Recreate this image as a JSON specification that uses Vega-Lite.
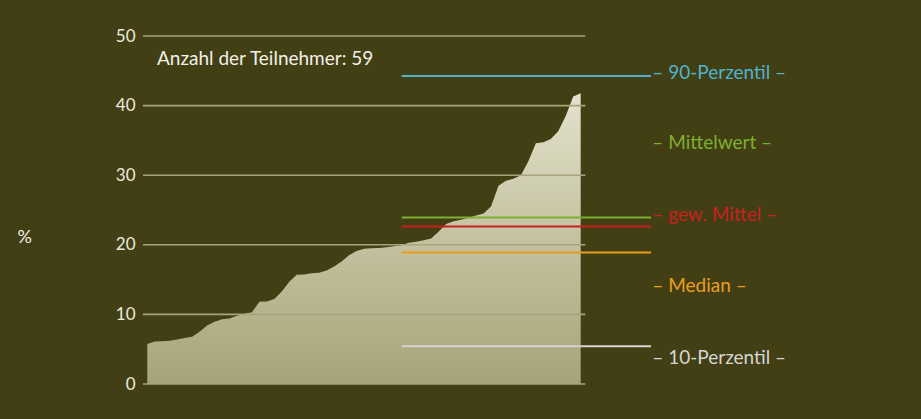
{
  "$schema": "https://vega.github.io/schema/vega-lite/v6.json",
  "autosize": {"type": "none"},
  "width": 778,
  "height": 348,
  "padding": {"left": 143, "top": 36, "right": 0, "bottom": 35},
  "background": "#433f15",
  "config": {"view": {"stroke": null}, "font": "Lato"},
  "datasets": {
    "teilnehmer": [
      {"i": 1, "v": 5.74}, {"i": 2, "v": 6.12}, {"i": 3, "v": 6.15}, {"i": 4, "v": 6.2}, {"i": 5, "v": 6.4},
      {"i": 6, "v": 6.6}, {"i": 7, "v": 6.8}, {"i": 8, "v": 7.5}, {"i": 9, "v": 8.4}, {"i": 10, "v": 8.95},
      {"i": 11, "v": 9.3}, {"i": 12, "v": 9.4}, {"i": 13, "v": 9.8}, {"i": 14, "v": 10.1}, {"i": 15, "v": 10.3},
      {"i": 16, "v": 11.8}, {"i": 17, "v": 11.87}, {"i": 18, "v": 12.2}, {"i": 19, "v": 13.3}, {"i": 20, "v": 14.7},
      {"i": 21, "v": 15.7}, {"i": 22, "v": 15.75}, {"i": 23, "v": 15.9}, {"i": 24, "v": 16.0}, {"i": 25, "v": 16.3},
      {"i": 26, "v": 16.9}, {"i": 27, "v": 17.6}, {"i": 28, "v": 18.5}, {"i": 29, "v": 19.1}, {"i": 30, "v": 19.43},
      {"i": 31, "v": 19.5}, {"i": 32, "v": 19.55}, {"i": 33, "v": 19.65}, {"i": 34, "v": 19.78}, {"i": 35, "v": 19.95},
      {"i": 36, "v": 20.3}, {"i": 37, "v": 20.45}, {"i": 38, "v": 20.65}, {"i": 39, "v": 20.9}, {"i": 40, "v": 21.9},
      {"i": 41, "v": 23.0}, {"i": 42, "v": 23.4}, {"i": 43, "v": 23.6}, {"i": 44, "v": 23.9}, {"i": 45, "v": 24.2},
      {"i": 46, "v": 24.5}, {"i": 47, "v": 25.5}, {"i": 48, "v": 28.5}, {"i": 49, "v": 29.2}, {"i": 50, "v": 29.5},
      {"i": 51, "v": 30.0}, {"i": 52, "v": 32.0}, {"i": 53, "v": 34.6}, {"i": 54, "v": 34.75}, {"i": 55, "v": 35.2},
      {"i": 56, "v": 36.3}, {"i": 57, "v": 38.5}, {"i": 58, "v": 41.3}, {"i": 59, "v": 41.77}
    ],
    "grid": [{"g": 0}, {"g": 10}, {"g": 20}, {"g": 30}, {"g": 40}, {"g": 50}],
    "kennwerte": [
      {"name": "90-Perzentil", "value": 44.27, "labelAt": 44.7, "label": "– 90-Perzentil –"},
      {"name": "Mittelwert", "value": 23.92, "labelAt": 34.6, "label": "– Mittelwert –"},
      {"name": "gew. Mittel", "value": 22.63, "labelAt": 24.3, "label": "– gew. Mittel –"},
      {"name": "Median", "value": 18.9, "labelAt": 14.1, "label": "– Median –"},
      {"name": "10-Perzentil", "value": 5.41, "labelAt": 3.8, "label": "– 10-Perzentil –"}
    ],
    "info": [{"text": "Anzahl der Teilnehmer: 59", "at": 45.9}]
  },
  "layer": [
    {
      "data": {"name": "teilnehmer"},
      "mark": {
        "type": "area",
        "interpolate": "linear",
        "color": {
          "gradient": "linear", "x1": 0, "y1": 0, "x2": 0, "y2": 1,
          "stops": [
            {"offset": 0, "color": "#e3e2cc"},
            {"offset": 0.5, "color": "#c4c2a0"},
            {"offset": 1, "color": "#a8a479"}
          ]
        }
      },
      "encoding": {
        "x": {"field": "i", "type": "quantitative", "scale": {"domain": [0.425, 104.545], "nice": false, "zero": false}, "axis": null},
        "y": {
          "field": "v", "type": "quantitative",
          "scale": {"domain": [0, 50], "nice": false},
          "axis": {
            "values": [0, 10, 20, 30, 40, 50],
            "grid": false, "domain": false, "ticks": false,
            "labelPadding": 8, "labelFontSize": 17, "labelColor": "#ece9dc",
            "title": "%", "titleAngle": 0, "titleX": -126, "titleY": 201,
            "titleAlign": "left", "titleBaseline": "middle",
            "titleFontSize": 18, "titleFontWeight": "normal", "titleColor": "#f2f0e6"
          }
        }
      }
    },
    {
      "data": {"name": "grid"},
      "mark": {"type": "rule", "color": "#a7a47c", "strokeWidth": 1.6},
      "encoding": {
        "y": {"field": "g", "type": "quantitative"},
        "x": {"datum": 0.425},
        "x2": {"datum": 59.62}
      }
    },
    {
      "data": {"name": "kennwerte"},
      "mark": {"type": "rule", "strokeWidth": 2},
      "encoding": {
        "y": {"field": "value", "type": "quantitative"},
        "x": {"datum": 35.05},
        "x2": {"datum": 68.41},
        "color": {
          "field": "name", "type": "nominal", "legend": null,
          "scale": {
            "domain": ["90-Perzentil", "Mittelwert", "gew. Mittel", "Median", "10-Perzentil"],
            "range": ["#4fb2cc", "#7cb030", "#c8201e", "#e89e1c", "#d4d4d4"]
          }
        }
      }
    },
    {
      "data": {"name": "kennwerte"},
      "mark": {"type": "text", "align": "left", "baseline": "middle", "fontSize": 19, "dx": 1},
      "encoding": {
        "y": {"field": "labelAt", "type": "quantitative"},
        "x": {"datum": 68.45},
        "text": {"field": "label"},
        "color": {"field": "name", "type": "nominal", "legend": null}
      }
    },
    {
      "data": {"name": "info"},
      "mark": {"type": "text", "align": "left", "baseline": "alphabetic", "fontSize": 19, "color": "#f2f0e6"},
      "encoding": {
        "y": {"field": "at", "type": "quantitative"},
        "x": {"datum": 2.3},
        "text": {"field": "text"}
      }
    }
  ]
}
